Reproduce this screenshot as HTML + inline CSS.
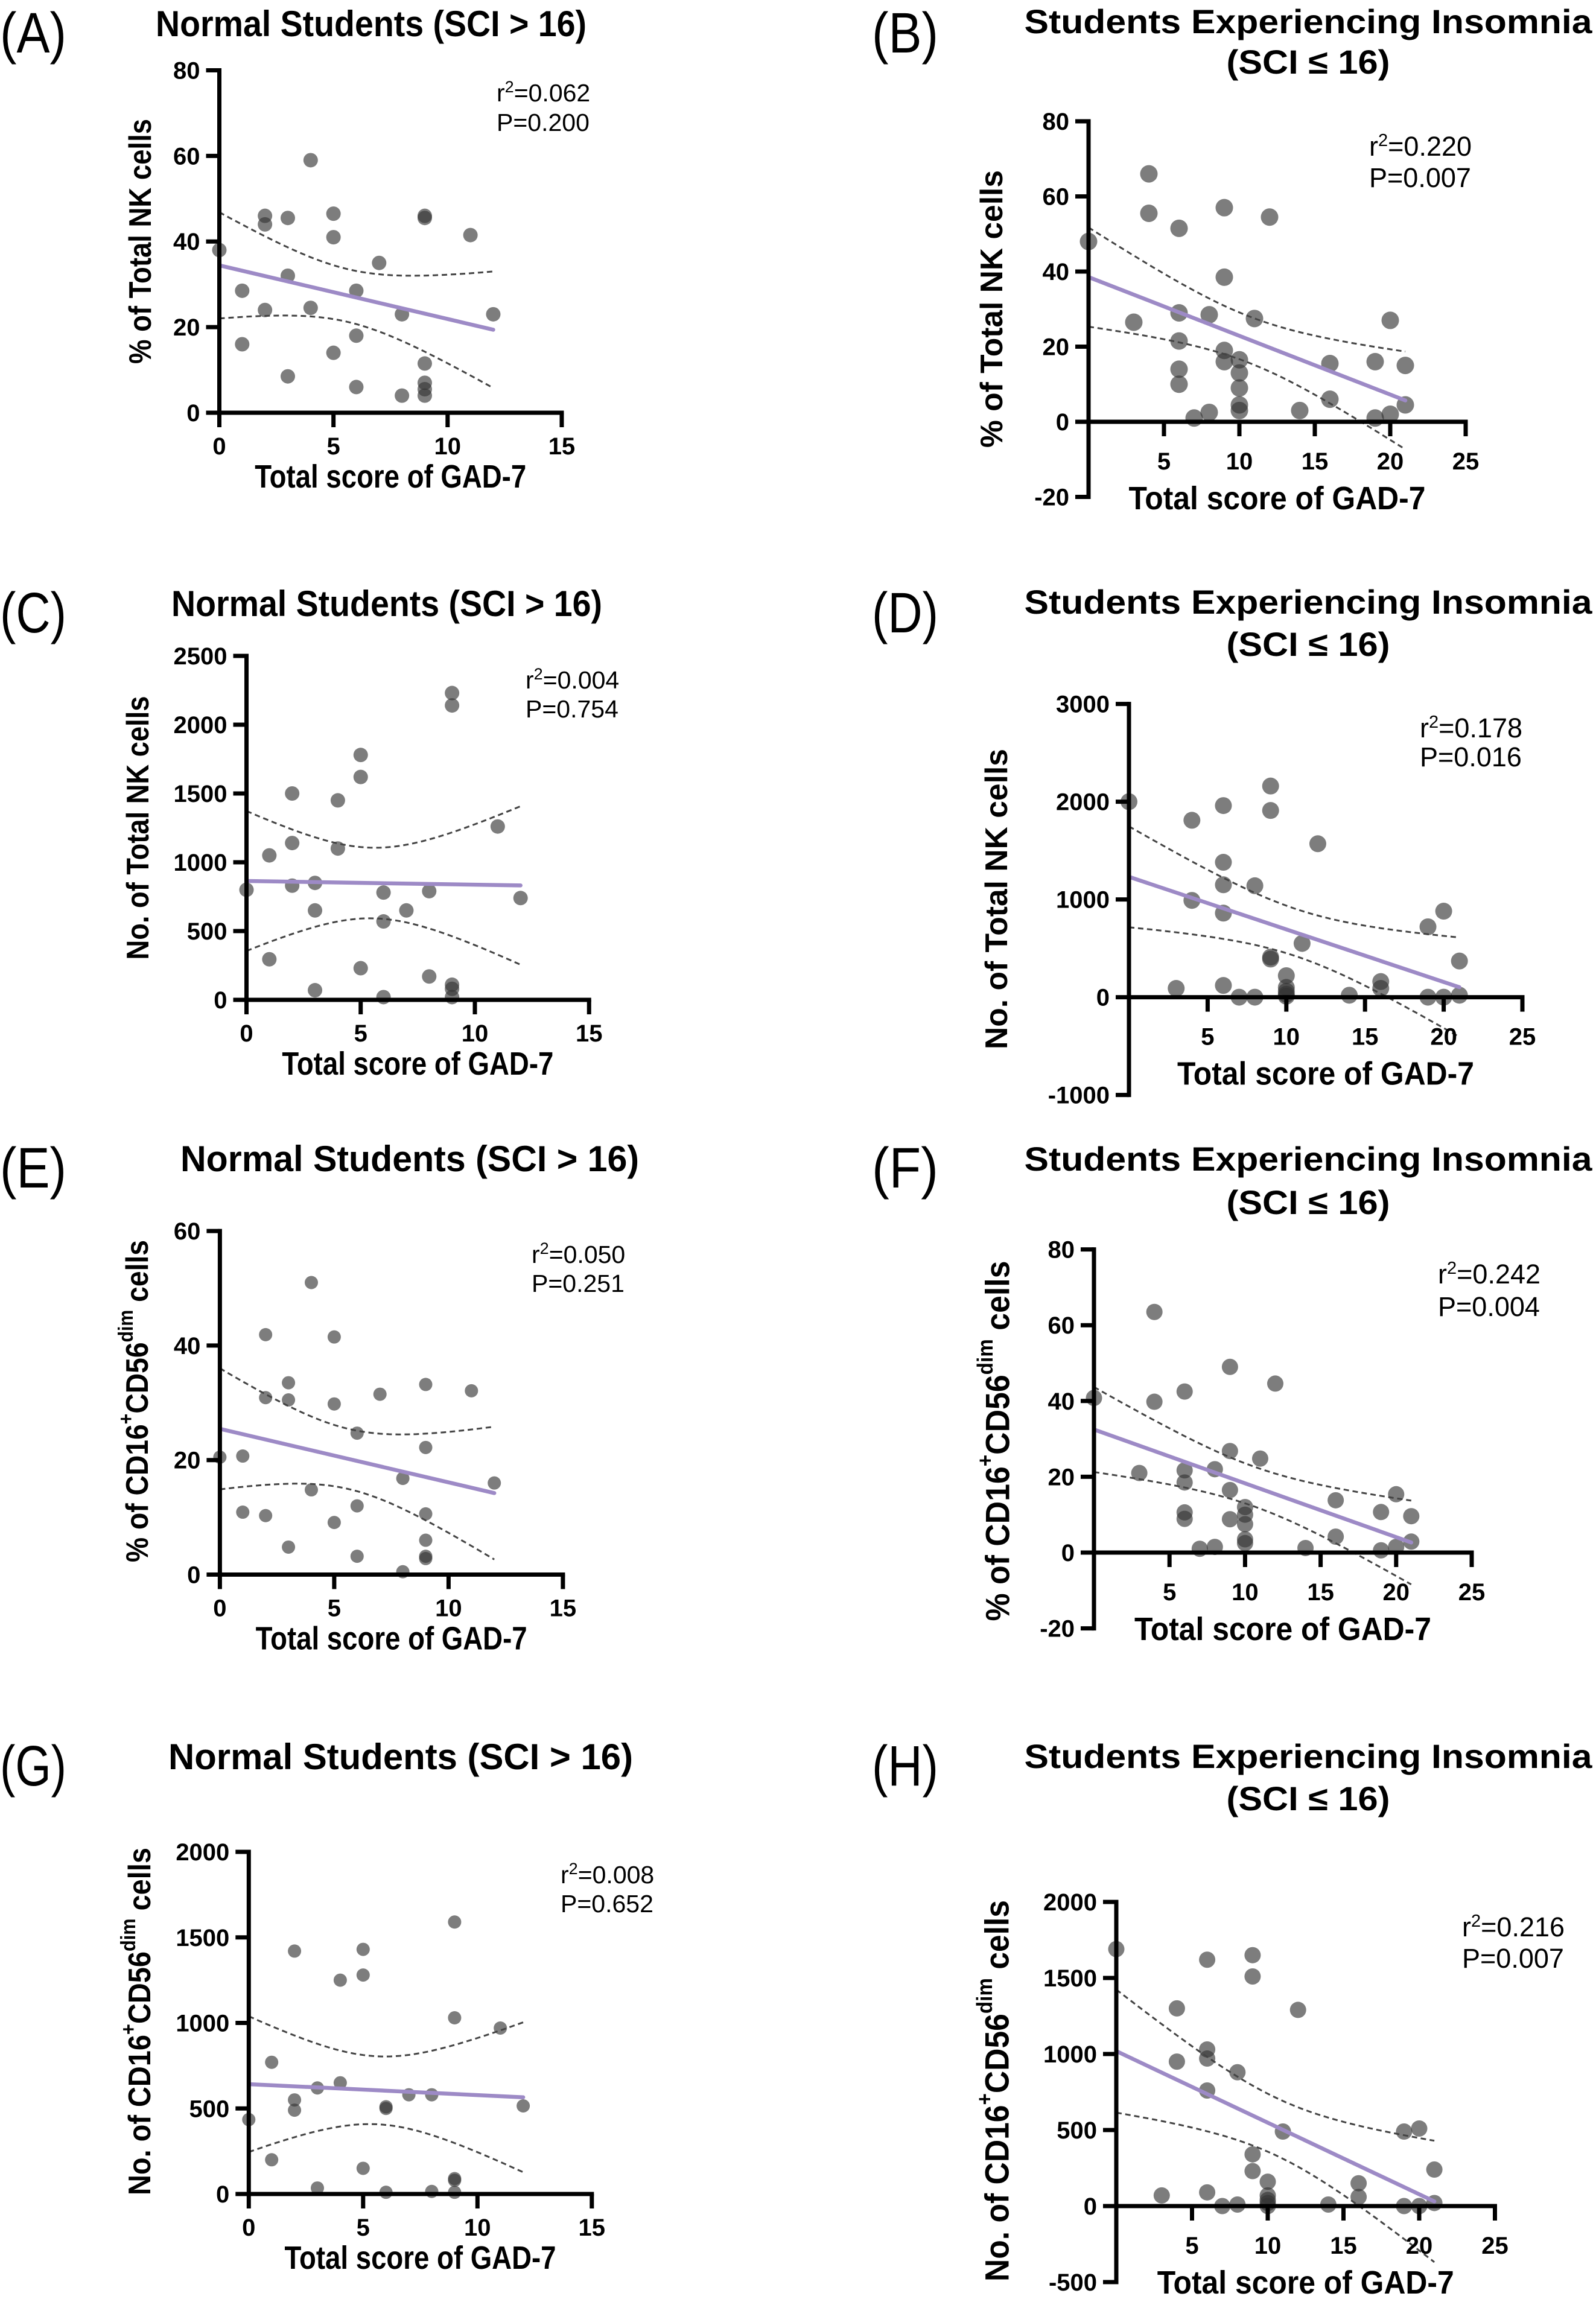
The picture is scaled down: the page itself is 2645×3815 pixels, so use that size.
<!DOCTYPE html>
<html><head><meta charset="utf-8"><title>GAD-7 vs NK cells</title>
<style>
html,body{margin:0;padding:0;background:#fff;}
svg{display:block;font-family:"Liberation Sans",Arial,sans-serif;}
.b{font-weight:bold;}
</style></head>
<body>
<svg id="fig" xmlns="http://www.w3.org/2000/svg" width="2645" height="3815" viewBox="0 0 2645 3815">
<rect width="2645" height="3815" fill="#fff"/>
<!-- panel labels -->
<text x="0" y="87" font-size="95" textLength="110" lengthAdjust="spacingAndGlyphs">(A)</text>
<text x="1445" y="87" font-size="95" textLength="110" lengthAdjust="spacingAndGlyphs">(B)</text>
<text x="0" y="1048" font-size="95" textLength="110" lengthAdjust="spacingAndGlyphs">(C)</text>
<text x="1445" y="1048" font-size="95" textLength="110" lengthAdjust="spacingAndGlyphs">(D)</text>
<text x="0" y="1968" font-size="95" textLength="110" lengthAdjust="spacingAndGlyphs">(E)</text>
<text x="1445" y="1968" font-size="95" textLength="110" lengthAdjust="spacingAndGlyphs">(F)</text>
<text x="0" y="2959" font-size="95" textLength="110" lengthAdjust="spacingAndGlyphs">(G)</text>
<text x="1445" y="2959" font-size="95" textLength="110" lengthAdjust="spacingAndGlyphs">(H)</text>

<!-- titles -->
<text class="b" x="615" y="60" font-size="60" text-anchor="middle" textLength="714" lengthAdjust="spacingAndGlyphs">Normal Students (SCI &gt; 16)</text>
<text class="b" x="641" y="1021" font-size="60" text-anchor="middle" textLength="714" lengthAdjust="spacingAndGlyphs">Normal Students (SCI &gt; 16)</text>
<text class="b" x="679" y="1941" font-size="60" text-anchor="middle" textLength="760" lengthAdjust="spacingAndGlyphs">Normal Students (SCI &gt; 16)</text>
<text class="b" x="664" y="2932" font-size="60" text-anchor="middle" textLength="770" lengthAdjust="spacingAndGlyphs">Normal Students (SCI &gt; 16)</text>

<text class="b" x="2168" y="55" font-size="56" text-anchor="middle" textLength="941" lengthAdjust="spacingAndGlyphs">Students Experiencing Insomnia</text>
<text class="b" x="2168" y="122" font-size="56" text-anchor="middle" textLength="271" lengthAdjust="spacingAndGlyphs">(SCI ≤ 16)</text>
<text class="b" x="2168" y="1017" font-size="56" text-anchor="middle" textLength="941" lengthAdjust="spacingAndGlyphs">Students Experiencing Insomnia</text>
<text class="b" x="2168" y="1087" font-size="56" text-anchor="middle" textLength="271" lengthAdjust="spacingAndGlyphs">(SCI ≤ 16)</text>
<text class="b" x="2168" y="1940" font-size="56" text-anchor="middle" textLength="941" lengthAdjust="spacingAndGlyphs">Students Experiencing Insomnia</text>
<text class="b" x="2168" y="2012" font-size="56" text-anchor="middle" textLength="271" lengthAdjust="spacingAndGlyphs">(SCI ≤ 16)</text>
<text class="b" x="2168" y="2930" font-size="56" text-anchor="middle" textLength="941" lengthAdjust="spacingAndGlyphs">Students Experiencing Insomnia</text>
<text class="b" x="2168" y="3000" font-size="56" text-anchor="middle" textLength="271" lengthAdjust="spacingAndGlyphs">(SCI ≤ 16)</text>

<!-- y axis titles -->
<text class="b" transform="translate(233,400) rotate(-90)" font-size="52" text-anchor="middle" dominant-baseline="central" textLength="406" lengthAdjust="spacingAndGlyphs">% of Total NK cells</text>
<text class="b" transform="translate(1644,512) rotate(-90)" font-size="52" text-anchor="middle" dominant-baseline="central" textLength="460" lengthAdjust="spacingAndGlyphs">% of Total NK cells</text>
<text class="b" transform="translate(229,1372) rotate(-90)" font-size="52" text-anchor="middle" dominant-baseline="central" textLength="437" lengthAdjust="spacingAndGlyphs">No. of Total NK cells</text>
<text class="b" transform="translate(1652,1490) rotate(-90)" font-size="52" text-anchor="middle" dominant-baseline="central" textLength="498" lengthAdjust="spacingAndGlyphs">No. of Total NK cells</text>
<text class="b" transform="translate(228,2322) rotate(-90)" font-size="52" text-anchor="middle" dominant-baseline="central" textLength="534" lengthAdjust="spacingAndGlyphs">% of CD16<tspan baseline-shift="super" font-size="34">+</tspan>CD56<tspan baseline-shift="super" font-size="34">dim</tspan> cells</text>
<text class="b" transform="translate(1653,2388) rotate(-90)" font-size="56" text-anchor="middle" dominant-baseline="central" textLength="597" lengthAdjust="spacingAndGlyphs">% of CD16<tspan baseline-shift="super" font-size="36">+</tspan>CD56<tspan baseline-shift="super" font-size="36">dim</tspan> cells</text>
<text class="b" transform="translate(232,3350) rotate(-90)" font-size="52" text-anchor="middle" dominant-baseline="central" textLength="576" lengthAdjust="spacingAndGlyphs">No. of CD16<tspan baseline-shift="super" font-size="34">+</tspan>CD56<tspan baseline-shift="super" font-size="34">dim</tspan> cells</text>
<text class="b" transform="translate(1652,3465) rotate(-90)" font-size="56" text-anchor="middle" dominant-baseline="central" textLength="632" lengthAdjust="spacingAndGlyphs">No. of CD16<tspan baseline-shift="super" font-size="36">+</tspan>CD56<tspan baseline-shift="super" font-size="36">dim</tspan> cells</text>

<!-- stats -->
<g font-size="41"><text x="823" y="168">r<tspan baseline-shift="super" font-size="27">2</tspan>=0.062</text><text x="823" y="217">P=0.200</text></g>
<g font-size="45"><text x="2269" y="258">r<tspan baseline-shift="super" font-size="29">2</tspan>=0.220</text><text x="2269" y="310">P=0.007</text></g>
<g font-size="41"><text x="871" y="1141">r<tspan baseline-shift="super" font-size="27">2</tspan>=0.004</text><text x="871" y="1189">P=0.754</text></g>
<g font-size="45"><text x="2353" y="1222">r<tspan baseline-shift="super" font-size="29">2</tspan>=0.178</text><text x="2353" y="1270">P=0.016</text></g>
<g font-size="41"><text x="881" y="2093">r<tspan baseline-shift="super" font-size="27">2</tspan>=0.050</text><text x="881" y="2141">P=0.251</text></g>
<g font-size="45"><text x="2383" y="2127">r<tspan baseline-shift="super" font-size="29">2</tspan>=0.242</text><text x="2383" y="2181">P=0.004</text></g>
<g font-size="41"><text x="929" y="3121">r<tspan baseline-shift="super" font-size="27">2</tspan>=0.008</text><text x="929" y="3169">P=0.652</text></g>
<g font-size="45"><text x="2423" y="3209">r<tspan baseline-shift="super" font-size="29">2</tspan>=0.216</text><text x="2423" y="3261">P=0.007</text></g>
</svg>
<script>
// ---- data (GAD-7 score vs cell measure) ----
const xA = [0,1,1,2,2,2,3,3,3,4,4,5,5,5,6,6,6,7,8,8,9,9,9,9,9,9,11,12];
const yA = [38,28.5,16,46,44,24,45.5,32,8.5,59,24.5,46.5,41,14,28.5,18,6,35,23,4,46,45.5,11.5,7,5.5,4,41.5,23];
const xB = [0,3,4,4,6,6,6,6,6,7,8,8,9,9,9,9,10,10,10,10,10,11,12,14,16,16,19,19,20,20,21,21];
const yB = [48,26.5,66,55.5,51.5,29,21.5,14,10,1,28.5,2.5,57,38.5,19,16,16.5,13,9,4.5,3,27.5,54.5,3,15.5,6,16,1,27,2,15,4.5];
const xC = [0,1,1,2,2,2,3,3,3,4,4,5,5,5,6,6,6,7,8,8,9,9,9,9,9,11,12];
const yC = [800,1050,295,1500,1140,830,850,650,70,1450,1100,1780,1620,230,780,570,20,650,790,170,2230,2140,110,80,20,1260,740];
const xD = [0,3,4,4,6,6,6,6,6,7,8,8,9,9,9,9,10,10,10,10,10,11,12,14,16,16,19,19,20,20,21,21];
const yD = [2000,90,1810,990,1960,1380,1150,860,120,0,1140,0,2160,1910,410,390,220,100,60,30,10,550,1570,20,160,90,720,0,880,0,370,20];
const xE = [0,1,1,2,2,2,3,3,3,4,4,5,5,5,6,6,6,7,8,8,9,9,9,9,9,9,11,12];
const yE = [20.5,20.7,10.9,41.9,30.9,10.3,33.5,30.5,4.8,51,14.8,41.5,29.8,9.1,24.7,12,3.2,31.5,16.8,0.5,33.2,22.2,10.6,6,3.2,2.8,32.1,16];
const xF = [0,3,4,4,6,6,6,6,6,7,8,8,9,9,9,9,10,10,10,10,10,11,12,14,16,16,19,19,20,20,21,21];
const yF = [40.8,21,63.5,39.8,42.5,21.7,18.5,10.6,8.9,1,22,1.5,49,26.8,16.5,8.8,12,10,7.5,3.5,2.5,24.8,44.6,1.2,13.8,4.2,10.7,0.6,15.4,1.5,9.6,2.9];
const xG = [0,1,1,2,2,2,3,3,4,4,5,5,5,6,6,6,7,8,8,9,9,9,9,9,11,12];
const yG = [435,770,200,1420,550,490,620,35,1250,650,1430,1280,150,510,500,10,580,580,15,1590,1030,90,80,10,970,515];
const xH = [0,3,4,4,6,6,6,6,6,7,8,8,9,9,9,9,10,10,10,10,10,11,12,14,16,16,19,19,20,20,21,21];
const yH = [1690,70,1300,950,1620,1030,970,760,90,0,880,10,1650,1510,340,230,160,70,40,20,0,490,1290,10,150,60,490,0,510,0,240,20];

const xTicksNormal = [0,5,10,15];
const xTicksInsomnia = [5,10,15,20,25];
const yTicksA = [0,20,40,60,80];
const yTicksB = [-20,0,20,40,60,80];
const yTicksC = [0,500,1000,1500,2000,2500];
const yTicksD = [-1000,0,1000,2000,3000];
const yTicksE = [0,20,40,60];
const yTicksF = [-20,0,20,40,60,80];
const yTicksG = [0,500,1000,1500,2000];
const yTicksH = [-500,0,500,1000,1500,2000];

// ---- layout (pixels) ----
const panels = [
 {id:'a', xs:xA, ys:yA, xt:xTicksNormal, yt:yTicksA, x0:363.5, xpu:37.83, y0:684, ypu:7.094, r:12, ins:false},
 {id:'b', xs:xB, ys:yB, xt:xTicksInsomnia, yt:yTicksB, x0:1804, xpu:25.0, y0:699, ypu:6.225, r:14.5, ins:true},
 {id:'c', xs:xC, ys:yC, xt:xTicksNormal, yt:yTicksC, x0:408.5, xpu:37.85, y0:1657, ypu:0.228, r:12, ins:false},
 {id:'d', xs:xD, ys:yD, xt:xTicksInsomnia, yt:yTicksD, x0:1871, xpu:26.08, y0:1652.6, ypu:0.162, r:14, ins:true},
 {id:'e', xs:xE, ys:yE, xt:xTicksNormal, yt:yTicksE, x0:364.4, xpu:37.9, y0:2609.5, ypu:9.49, r:11, ins:false},
 {id:'f', xs:xF, ys:yF, xt:xTicksInsomnia, yt:yTicksF, x0:1813, xpu:25.04, y0:2573, ypu:6.28, r:13.5, ins:true},
 {id:'g', xs:xG, ys:yG, xt:xTicksNormal, yt:yTicksG, x0:412.3, xpu:37.9, y0:3636, ypu:0.2835, r:11, ins:false},
 {id:'h', xs:xH, ys:yH, xt:xTicksInsomnia, yt:yTicksH, x0:1850, xpu:25.1, y0:3656, ypu:0.252, r:13.5, ins:true}
];

const NS = 'http://www.w3.org/2000/svg';
const svg = document.getElementById('fig');
function mk(tag, attrs, parent){
  const el = document.createElementNS(NS, tag);
  for (const k in attrs) el.setAttribute(k, attrs[k]);
  parent.appendChild(el);
  return el;
}

function regress(xs, ys){
  const n = xs.length;
  let mx=0,my=0; for(let i=0;i<n;i++){mx+=xs[i];my+=ys[i];} mx/=n; my/=n;
  let sxx=0,sxy=0; for(let i=0;i<n;i++){sxx+=(xs[i]-mx)*(xs[i]-mx); sxy+=(xs[i]-mx)*(ys[i]-my);}
  const b = sxy/sxx, a = my - b*mx;
  let sse=0; for(let i=0;i<n;i++){const e=ys[i]-(a+b*xs[i]); sse+=e*e;}
  const s = Math.sqrt(sse/(n-2));
  return {a,b,s,mx,sxx,n};
}

panels.forEach(p => {
  const X = v => p.x0 + v*p.xpu;
  const Y = v => p.y0 - v*p.ypu;
  const g = mk('g', {}, svg);
  
  

  // points
  const pts = mk('g', {}, g);
  
  
  for (let i=0;i<p.xs.length;i++){
    const c = mk('circle', {cx:X(p.xs[i]), cy:Y(p.ys[i]), r:p.r, fill:'#333', 'fill-opacity':0.64}, pts);
    
    
  }

  // regression + CI
  const R = regress(p.xs, p.ys);
  const xmin = Math.min(...p.xs), xmax = Math.max(...p.xs);
  const t = 2.045;
  let up='', lo='';
  for (let k=0;k<=60;k++){
    const xv = xmin + (xmax-xmin)*k/60;
    const yh = R.a + R.b*xv;
    const se = R.s*Math.sqrt(1/R.n + (xv-R.mx)*(xv-R.mx)/R.sxx);
    up += (k?'L':'M') + X(xv).toFixed(1) + ' ' + Y(yh + t*se).toFixed(1);
    lo += (k?'L':'M') + X(xv).toFixed(1) + ' ' + Y(yh - t*se).toFixed(1);
  }
  const ciU = mk('path', {d:up, fill:'none', stroke:'#444', 'stroke-width':3, 'stroke-dasharray':'9 6'}, g);
  
  
  const ciL = mk('path', {d:lo, fill:'none', stroke:'#444', 'stroke-width':3, 'stroke-dasharray':'9 6'}, g);
  
  
  const fit = mk('line', {x1:X(xmin), y1:Y(R.a+R.b*xmin), x2:X(xmax), y2:Y(R.a+R.b*xmax), stroke:'#9d8ac6', 'stroke-width':6.5, 'stroke-linecap':'round'}, g);
  
  

  // axes
  const ymin = Math.min(...p.yt), ymaxT = Math.max(...p.yt);
  const xmaxT = Math.max(...p.xt);
  const yax = mk('line', {x1:p.x0, y1:Y(ymin)+3.5, x2:p.x0, y2:Y(ymaxT)-3.5, stroke:'#000', 'stroke-width':7}, g);
  
  
  const xax = mk('line', {x1:p.x0-3.5, y1:Y(0), x2:X(xmaxT)+3.5, y2:Y(0), stroke:'#000', 'stroke-width':7}, g);
  
  

  p.yt.forEach(v => {
    const tk = mk('line', {x1:p.x0-22, y1:Y(v), x2:p.x0, y2:Y(v), stroke:'#000', 'stroke-width':7}, g);
    
    
    const lb = mk('text', {x:p.x0-32, y:Y(v)+14, 'text-anchor':'end', 'font-size':40, 'font-weight':'bold'}, g);
    
    
    lb.textContent = String(v);
  });
  const xlabY = Y(0) + (p.ins ? 79 : 69);
  p.xt.forEach(v => {
    const tk = mk('line', {x1:X(v), y1:Y(0), x2:X(v), y2:Y(0)+24, stroke:'#000', 'stroke-width':7}, g);
    
    
    const lb = mk('text', {x:X(v), y:xlabY, 'text-anchor':'middle', 'font-size':40, 'font-weight':'bold'}, g);
    
    
    lb.textContent = String(v);
  });

  // x axis title
  const xt = mk('text', {x: p.ins ? X(12.5) : X(7.5), y: Y(0) + (p.ins ? 145 : 124), 'text-anchor':'middle', 'font-size':54, 'font-weight':'bold', textLength: p.ins ? 492 : 450, lengthAdjust:'spacingAndGlyphs'}, g);
  
  
  xt.textContent = 'Total score of GAD-7';
});
</script>
</body></html>
